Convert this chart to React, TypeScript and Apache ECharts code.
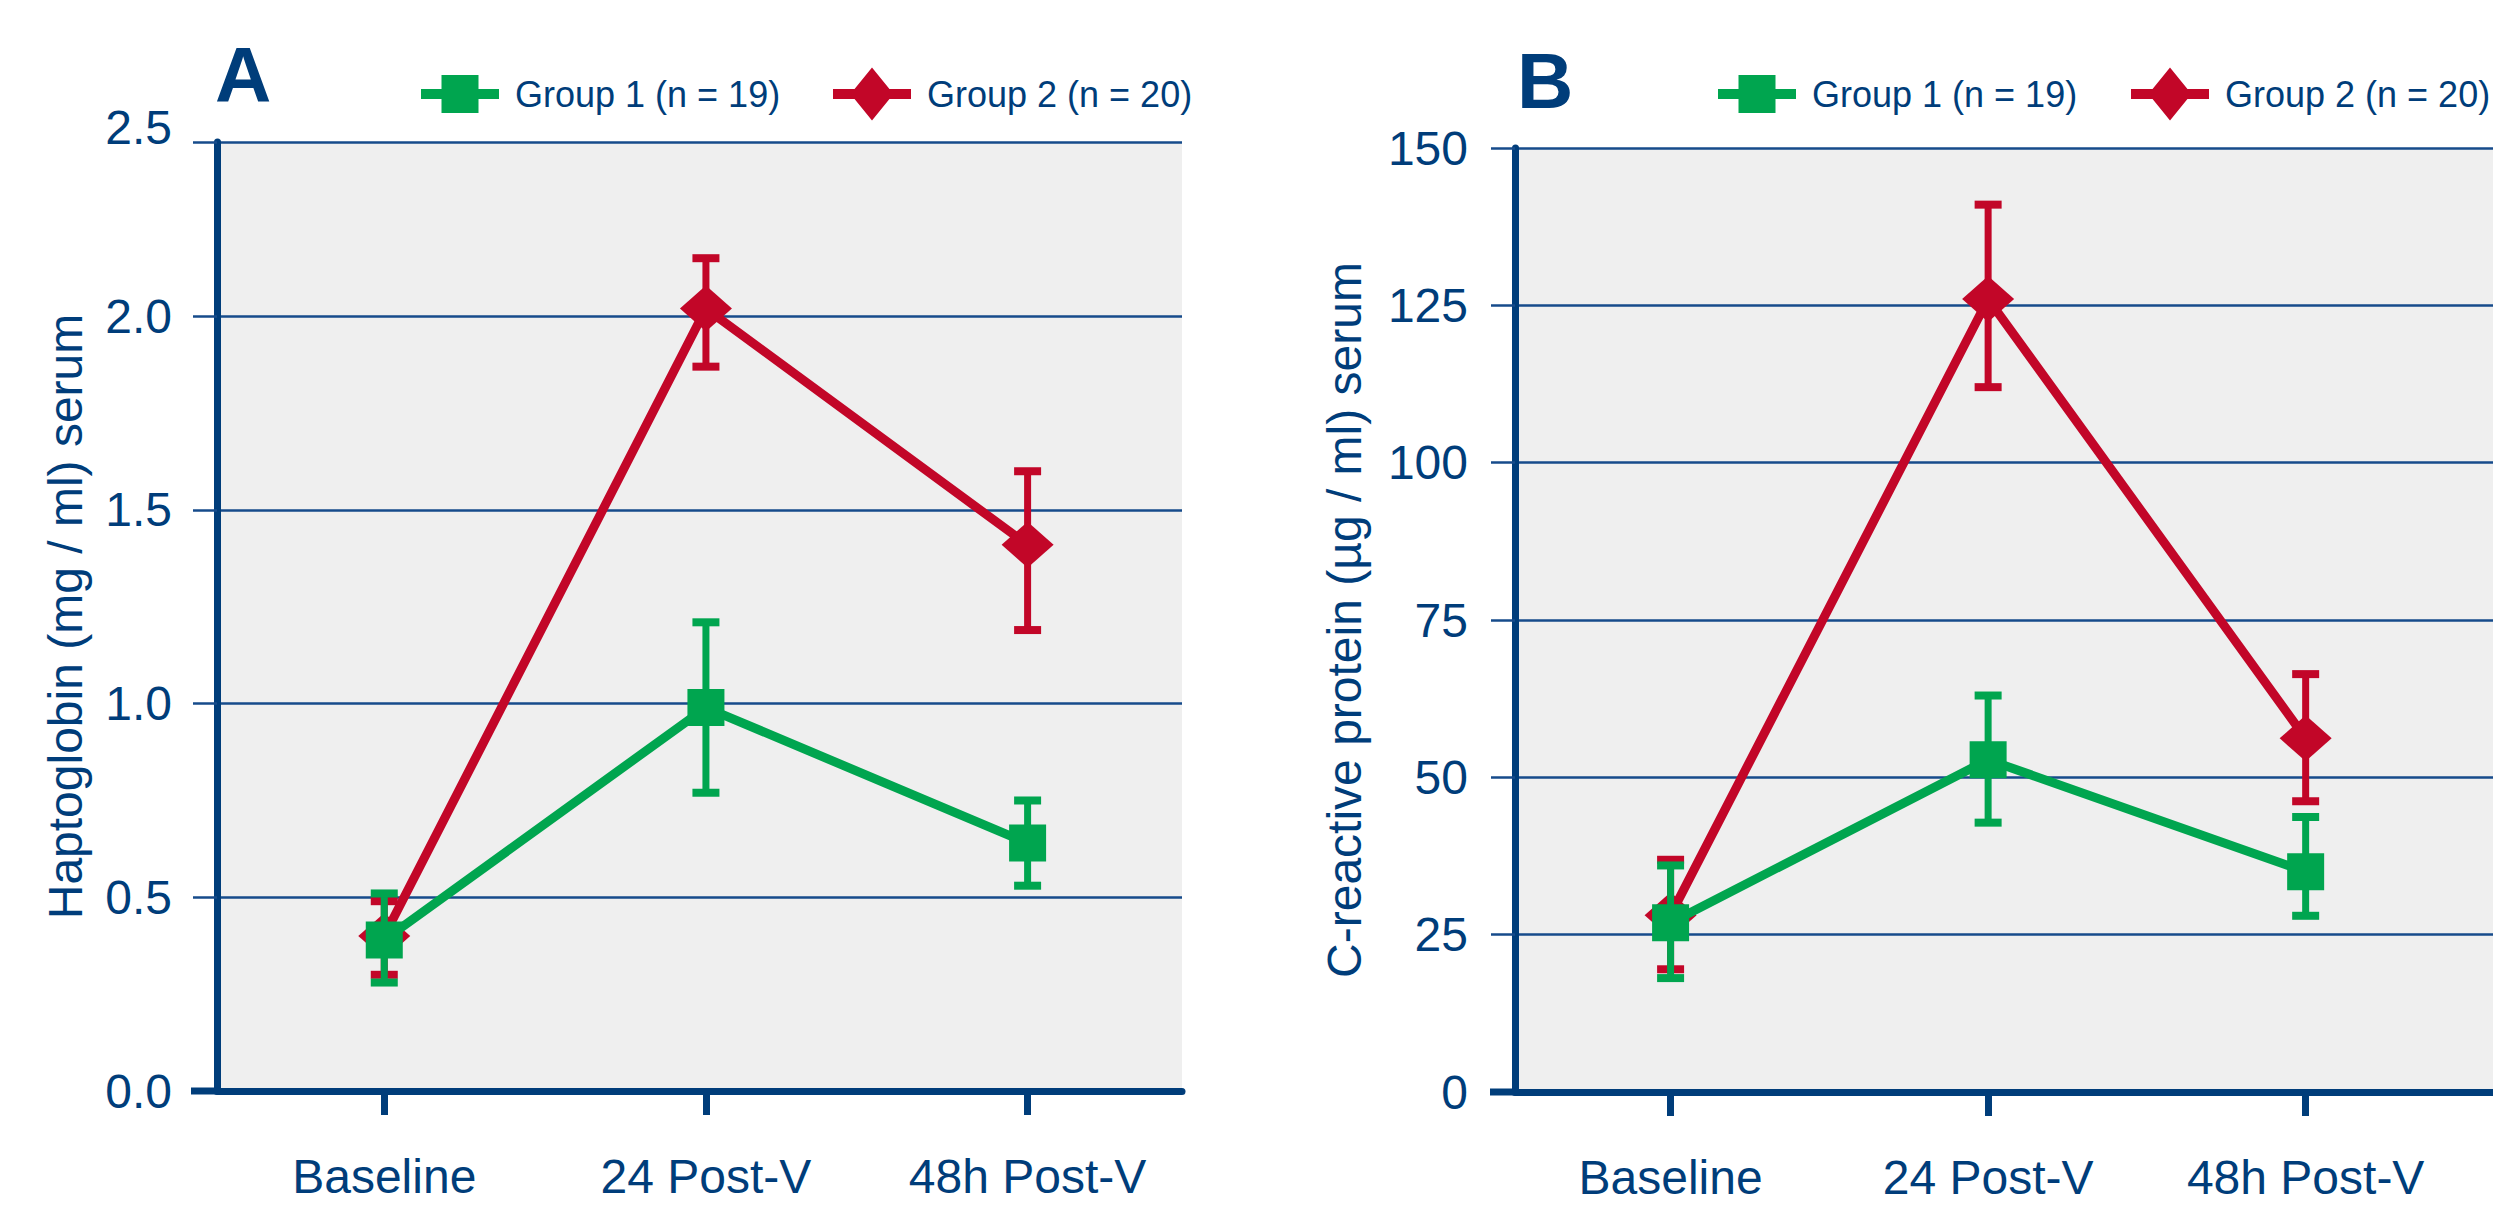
import React, { useEffect, useRef } from 'react';
import * as echarts from 'echarts';

// ---------- data ----------
const categories = ['Baseline', '24 Post-V', '48h Post-V'];
const xPositions = [0, 1, 2];
const groupNames = ['Group 1 (n = 19)', 'Group 2 (n = 20)'];

// Panel A: Haptoglobin (mg / ml) serum, mean with error bar ends
const haptoG1Mean = [0.39, 0.99, 0.64];
const haptoG1Low = [0.28, 0.77, 0.53];
const haptoG1High = [0.51, 1.21, 0.75];
const haptoG2Mean = [0.4, 2.02, 1.41];
const haptoG2Low = [0.3, 1.87, 1.19];
const haptoG2High = [0.49, 2.15, 1.6];

// Panel B: C-reactive protein (µg / ml) serum
const crpG1Mean = [26.9, 52.8, 35.0];
const crpG1Low = [18.1, 42.8, 28.0];
const crpG1High = [36.0, 63.0, 43.7];
const crpG2Mean = [28.1, 126.0, 56.2];
const crpG2Low = [19.5, 112.0, 46.2];
const crpG2High = [36.9, 141.0, 66.4];

// tick labels
const haptoTicks = ['0.0', '0.5', '1.0', '1.5', '2.0', '2.5'];
const crpTicks = ['0', '25', '50', '75', '100', '125', '150'];

// ---------- style / layout ----------
const FONT = "'Liberation Sans', Arial, sans-serif";
const FONT_NARROW = "'Liberation Sans Narrow', 'Liberation Sans', Arial, sans-serif";
const NAVY = '#003d7a';
const GRIDC = '#164b8b';
const BG = '#efefef';
const GREEN = '#00a54f';
const RED = '#c20628';

const W = 2493;
const H = 1206;
const gridA = { left: 217, right: W - 1182, top: 142, bottom: H - 1091 };
const gridB = { left: 1515, right: 0, top: 148, bottom: H - 1092 };
// plot area of panel A ends a little below 2.5 in the original
const haptoMax = 2.45;
const xExtentA = [-0.52, 2.48];
const xExtentB = [-0.49, 2.59];

const ICON_SQUARE = 'path://M0,14H20.5V0H57.5V14H78V24H57.5V38H20.5V24H0Z';
const ICON_DIAMOND =
  'path://M0,21.5H21.56L39,0L56.44,21.5H78V31.5H56.44L39,53L21.56,31.5H0Z';

const pairs = (vals: number[]) => xPositions.map((x, i) => [x, vals[i]]);
const triples = (lo: number[], hi: number[]) => xPositions.map((x, i) => [x, lo[i], hi[i]]);

const errorSeries = (axis: number, lo: number[], hi: number[], color: string, z: number) => ({
  type: 'custom',
  xAxisIndex: axis,
  yAxisIndex: axis,
  z,
  silent: true,
  encode: { x: 0, y: [1, 2] },
  data: triples(lo, hi),
  renderItem: (params: any, api: any) => {
    const x = api.value(0);
    const pLo = api.coord([x, api.value(1)]);
    const pHi = api.coord([x, api.value(2)]);
    const capW = 27;
    const capH = 8;
    const stemW = 7;
    return {
      type: 'group',
      children: [
        {
          type: 'rect',
          shape: { x: pLo[0] - stemW / 2, y: pHi[1], width: stemW, height: pLo[1] - pHi[1] },
          style: { fill: color },
        },
        {
          type: 'rect',
          shape: { x: pHi[0] - capW / 2, y: pHi[1] - capH / 2, width: capW, height: capH },
          style: { fill: color },
        },
        {
          type: 'rect',
          shape: { x: pLo[0] - capW / 2, y: pLo[1] - capH / 2, width: capW, height: capH },
          style: { fill: color },
        },
      ],
    };
  },
});

const lineSeries = (axis: number, name: string, vals: number[], color: string, symbol: string, size: any, z: number) => ({
  type: 'line',
  name,
  xAxisIndex: axis,
  yAxisIndex: axis,
  z,
  data: pairs(vals),
  symbol,
  symbolSize: size,
  showAllSymbol: true,
  lineStyle: { color, width: 9 },
  itemStyle: { color, borderWidth: 0 },
  emphasis: { disabled: true },
});

const xAxisFor = (grid: number, ext: number[]) => ({
  type: 'value',
  gridIndex: grid,
  min: ext[0],
  max: ext[1],
  axisLine: { show: true, onZero: false, lineStyle: { color: NAVY, width: 7 } },
  axisTick: { show: true, customValues: xPositions, length: 24, lineStyle: { color: NAVY, width: 7 } },
  axisLabel: {
    customValues: xPositions,
    formatter: (v: number) => categories[Math.round(v)],
    margin: 61,
    fontSize: 48,
    color: NAVY,
    fontFamily: FONT,
  },
  splitLine: { show: false },
});

const yCommon = {
  type: 'value',
  nameLocation: 'middle',
  nameRotate: 90,
  nameTextStyle: { fontSize: 48, color: NAVY, fontFamily: FONT },
  axisLine: { show: true, onZero: false, lineStyle: { color: NAVY, width: 7 } },
  axisTick: { show: true, length: 24, lineStyle: { color: GRIDC, width: 2.5 } },
  splitLine: { show: true, lineStyle: { color: GRIDC, width: 2.5 } },
};

const legendFor = (name: string, icon: string, left: number, itemH: number) => ({
  data: [{ name, icon }],
  left,
  top: 94 - itemH / 2,
  padding: 0,
  itemWidth: 78,
  itemHeight: itemH,
  selectedMode: false,
  itemStyle: { borderWidth: 0 },
  textStyle: { color: NAVY, fontSize: 36, fontFamily: FONT, padding: [0, 0, 0, 11] },
});

const option: any = {
  animation: false,
  backgroundColor: '#ffffff',
  grid: [
    { ...gridA, show: true, backgroundColor: BG, borderWidth: 0 },
    { ...gridB, show: true, backgroundColor: BG, borderWidth: 0 },
  ],
  legend: [
    legendFor(groupNames[0], ICON_SQUARE, 421, 38),
    legendFor(groupNames[1], ICON_DIAMOND, 833, 53),
    legendFor(groupNames[0], ICON_SQUARE, 1718, 38),
    legendFor(groupNames[1], ICON_DIAMOND, 2131, 53),
  ],
  xAxis: [xAxisFor(0, xExtentA), xAxisFor(1, xExtentB)],
  yAxis: [
    {
      ...yCommon,
      gridIndex: 0,
      min: 0,
      max: haptoMax,
      interval: 0.5,
      name: 'Haptoglobin (mg / ml) serum',
      nameGap: 128,
      axisLabel: {
        margin: 45,
        fontSize: 48,
        color: NAVY,
        fontFamily: FONT,
        showMaxLabel: true,
        showMinLabel: true,
        formatter: (v: number) => {
          const idx = Math.round(v / 0.5);
          if (v > haptoMax - 0.1) return '{a|' + haptoTicks[haptoTicks.length - 1] + '}\n{b| }';
          return haptoTicks[idx];
        },
        rich: {
          a: { fontSize: 48, lineHeight: 48, color: NAVY, fontFamily: FONT },
          b: { fontSize: 10, lineHeight: 30, color: NAVY, fontFamily: FONT },
        },
      },
    },
    {
      ...yCommon,
      gridIndex: 1,
      min: 0,
      max: 150,
      interval: 25,
      name: 'C-reactive protein (µg / ml) serum',
      nameGap: 147,
      axisLabel: {
        margin: 47,
        fontSize: 48,
        color: NAVY,
        fontFamily: FONT,
        formatter: (v: number) => crpTicks[Math.round(v / 25)],
      },
    },
  ],
  graphic: [
    {
      type: 'rect',
      shape: { x: gridA.left - 26, y: H - gridA.bottom - 3.5, width: 26, height: 7 },
      style: { fill: NAVY },
      z: 10,
    },
    {
      type: 'rect',
      shape: { x: gridB.left - 25, y: H - gridB.bottom - 3.5, width: 25, height: 7 },
      style: { fill: NAVY },
      z: 10,
    },
    {
      type: 'text',
      x: gridA.left - 2,
      y: 75,
      style: { text: 'A', fill: NAVY, fontSize: 78, fontWeight: 'bold', fontFamily: FONT_NARROW, verticalAlign: 'middle' },
    },
    {
      type: 'text',
      x: gridB.left + 2,
      y: 81,
      style: { text: 'B', fill: NAVY, fontSize: 78, fontWeight: 'bold', fontFamily: FONT_NARROW, verticalAlign: 'middle' },
    },
  ],
  series: [
    errorSeries(0, haptoG2Low, haptoG2High, RED, 2),
    lineSeries(0, groupNames[1], haptoG2Mean, RED, 'diamond', [52, 46], 3),
    errorSeries(0, haptoG1Low, haptoG1High, GREEN, 4),
    lineSeries(0, groupNames[0], haptoG1Mean, GREEN, 'rect', 37, 5),
    errorSeries(1, crpG2Low, crpG2High, RED, 2),
    lineSeries(1, groupNames[1], crpG2Mean, RED, 'diamond', [52, 46], 3),
    errorSeries(1, crpG1Low, crpG1High, GREEN, 4),
    lineSeries(1, groupNames[0], crpG1Mean, GREEN, 'rect', 37, 5),
  ],
};

export default function App() {
  const ref = useRef<HTMLDivElement>(null);
  useEffect(() => {
    if (!ref.current) return;
    const chart = echarts.init(ref.current, null, { renderer: 'svg' });
    chart.setOption(option);
    return () => {
      chart.dispose();
    };
  }, []);
  return (
    <div
      ref={ref}
      style={{ position: 'fixed', left: 0, top: 0, width: W, height: H, background: '#fff' }}
    />
  );
}
